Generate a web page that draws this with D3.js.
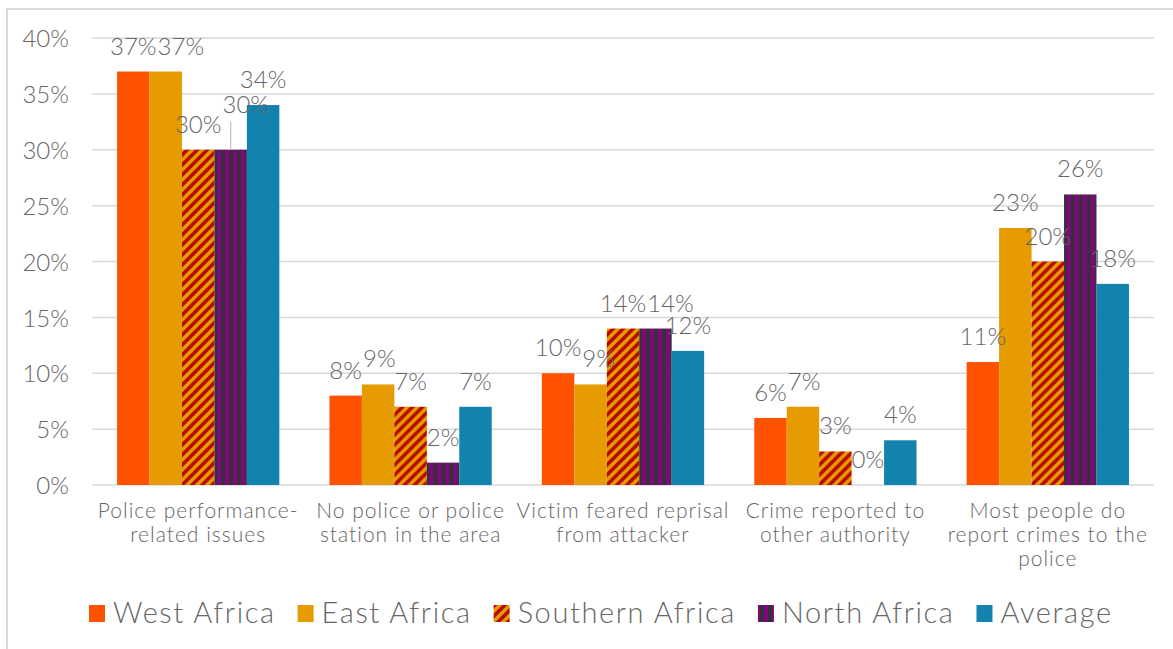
<!DOCTYPE html>
<html>
<head>
<meta charset="utf-8">
<script src="https://cdn.jsdelivr.net/npm/d3@7"></script>
<style>
  html, body { margin: 0; padding: 0; background: #fff; }
  svg { display: block; }
  text { font-family: Lato, "Open Sans", sans-serif; font-weight: 300; fill: #666; }
</style>
</head>
<body>
<svg id="chart" width="1173" height="649"></svg>
<script>
// Reasons for not reporting crime to the police, by region (share of respondents, %)
const categories = [
  "Police performance-related issues",
  "No police or police station in the area",
  "Victim feared reprisal from attacker",
  "Crime reported to other authority",
  "Most people do report crimes to the police"
];
const categoryLines = [
  ["Police performance-", "related issues"],
  ["No police or police", "station in the area"],
  ["Victim feared reprisal", "from attacker"],
  ["Crime reported to", "other authority"],
  ["Most people do", "report crimes to the", "police"]
];
const seriesNames = ["West Africa", "East Africa", "Southern Africa", "North Africa", "Average"];
const westAfrica     = [37, 8, 10, 6, 11];
const eastAfrica     = [37, 9, 9, 7, 23];
const southernAfrica = [30, 7, 14, 3, 20];
const northAfrica    = [30, 2, 14, 0, 26];
const average        = [34, 7, 12, 4, 18];
const yTicks = [0, 5, 10, 15, 20, 25, 30, 35, 40];

const seriesValues = [westAfrica, eastAfrica, southernAfrica, northAfrica, average];
const series = seriesNames.map((name, i) => ({ name, values: seriesValues[i] }));

const svg = d3.select("#chart");

// Outer chart frame
svg.append("rect")
  .attr("x", 7).attr("y", 9).attr("width", 1200).attr("height", 700)
  .attr("fill", "none").attr("stroke", "#d9d9d9").attr("stroke-width", 2);

// Fill patterns: diagonal stripes for Southern Africa, vertical stripes for North Africa
const defs = svg.append("defs");
const diag = defs.append("pattern")
  .attr("id", "pat-southern").attr("patternUnits", "userSpaceOnUse")
  .attr("width", 10).attr("height", 10);
diag.append("rect").attr("width", 10).attr("height", 10).attr("fill", "#e69b00");
diag.append("path")
  .attr("d", "M-2,2 L2,-2 M0,10 L10,0 M8,12 L12,8")
  .attr("stroke", "#b80a00").attr("stroke-width", 3.6);

const vert = defs.append("pattern")
  .attr("id", "pat-north").attr("patternUnits", "userSpaceOnUse")
  .attr("width", 8).attr("height", 8);
vert.append("rect").attr("width", 8).attr("height", 8).attr("fill", "#82077f");
vert.append("rect").attr("width", 4).attr("height", 8).attr("fill", "#35303a");

const fills = {
  "West Africa": "#ff5200",
  "East Africa": "#e69b00",
  "Southern Africa": "url(#pat-southern)",
  "North Africa": "url(#pat-north)",
  "Average": "#1183ad"
};

// Scales
const plot = { left: 92, right: 1154, top: 38, bottom: 485 };
const x0 = d3.scaleBand()
  .domain(categories)
  .range([plot.left, plot.right])
  .paddingInner(0.236)
  .paddingOuter(0.118);
const x1 = d3.scaleBand()
  .domain(seriesNames)
  .range([0, x0.bandwidth()]);
const y = d3.scaleLinear().domain([0, 40]).range([plot.bottom, plot.top]);

// Gridlines
svg.append("g").selectAll("line")
  .data(yTicks)
  .join("line")
  .attr("x1", plot.left).attr("x2", plot.right)
  .attr("y1", d => y(d)).attr("y2", d => y(d))
  .attr("stroke", "#d9d9d9").attr("stroke-width", 1.5);

// Y axis labels
const yAxis = d3.axisLeft(y).tickValues(yTicks).tickFormat(d => d + "%").tickSize(0).tickPadding(0);
const yg = svg.append("g").attr("transform", `translate(69,0)`).call(yAxis);
yg.select(".domain").remove();
yg.selectAll("text")
  .attr("font-family", null).attr("font-size", null)
  .style("font-size", "24px")
  .attr("dy", "0.36em");

// Bars
const groups = svg.append("g").selectAll("g")
  .data(categories)
  .join("g")
  .attr("transform", d => `translate(${x0(d)},0)`);

groups.selectAll("rect")
  .data((c, ci) => series.map(s => ({ series: s.name, value: s.values[ci], ci })))
  .join("rect")
  .attr("x", d => x1(d.series))
  .attr("width", x1.bandwidth())
  .attr("y", d => y(d.value))
  .attr("height", d => y(0) - y(d.value))
  .attr("fill", d => fills[d.series]);

// Data labels
const labelLayer = svg.append("g");
const labelGap = 17;
// North Africa label in the first group is lifted and tied to its bar with a leader line
const lifted = { series: "North Africa", ci: 0, lift: 20 };

categories.forEach((c, ci) => {
  const placed = [];
  series.forEach(s => {
    const v = s.values[ci];
    const cx = x0(c) + x1(s.name) + x1.bandwidth() / 2;
    let by = y(v) - labelGap;
    const isLifted = s.name === lifted.series && ci === lifted.ci;
    if (isLifted) by -= lifted.lift;
    const t = labelLayer.append("text")
      .attr("x", cx).attr("y", by)
      .attr("text-anchor", "middle")
      .style("font-size", "24px")
      .text(v + "%");
    const w = t.node().getComputedTextLength();
    const box = { x: cx, w, top: by - 20, bottom: by + 2 };
    // push right if it collides with a label already placed in this group
    placed.forEach(p => {
      const vOverlap = box.top < p.bottom && box.bottom > p.top;
      const minX = p.x + p.w / 2 + 1 + w / 2;
      if (vOverlap && box.x < minX) box.x = minX;
    });
    t.attr("x", box.x);
    placed.push(box);
    if (isLifted) {
      labelLayer.append("line")
        .attr("x1", cx).attr("x2", cx)
        .attr("y1", by + 9).attr("y2", y(v))
        .attr("stroke", "#bfbfbf").attr("stroke-width", 1.2);
    }
  });
});

// Category labels
const catG = svg.append("g");
categories.forEach((c, ci) => {
  const t = catG.append("text")
    .attr("text-anchor", "middle")
    .style("font-size", "21px")
    .style("letter-spacing", "1px");
  categoryLines[ci].forEach((line, li) => {
    t.append("tspan")
      .attr("x", x0(c) + x0.bandwidth() / 2)
      .attr("y", 518 + li * 24)
      .text(line);
  });
});

// Legend
const legend = svg.append("g");
let lx = 89;
series.forEach(s => {
  legend.append("rect")
    .attr("x", lx).attr("y", 605).attr("width", 16).attr("height", 17)
    .attr("fill", fills[s.name]);
  const t = legend.append("text")
    .attr("x", lx + 24).attr("y", 623)
    .style("font-size", "29px")
    .style("letter-spacing", "1.6px")
    .text(s.name);
  lx += 24 + t.node().getComputedTextLength() + 22;
});
</script>
</body>
</html>
